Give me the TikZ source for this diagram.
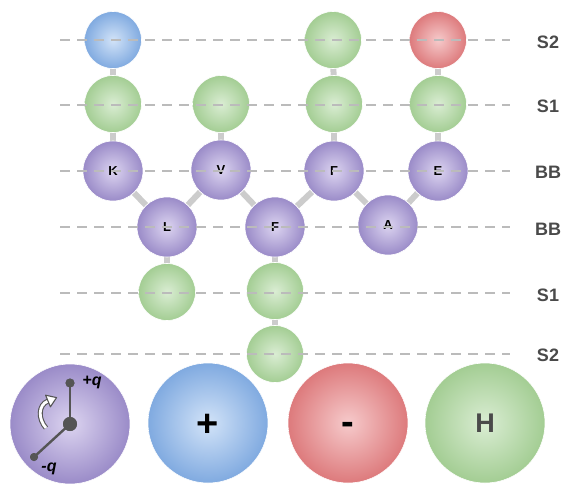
\documentclass[tikz,border=0pt]{standalone}
\usepackage{fontspec}
\setmainfont{Liberation Sans}
\usetikzlibrary{backgrounds}
\definecolor{purin}{HTML}{DCD4F0}
\definecolor{purout}{HTML}{9A8BC8}
\definecolor{bluin}{HTML}{D2E3F8}
\definecolor{bluout}{HTML}{80AAE0}
\definecolor{redin}{HTML}{F6CACB}
\definecolor{redout}{HTML}{DD7A7C}
\definecolor{grnin}{HTML}{DAEDD3}
\definecolor{grnout}{HTML}{A3CD93}
\definecolor{conncol}{HTML}{CCCCCC}
\definecolor{dashcol}{HTML}{BBBBBB}
\definecolor{labcol}{HTML}{4A4A4A}
\definecolor{dipcol}{HTML}{555555}
\begin{document}
\begin{tikzpicture}[x=1pt,y=-1pt,
  bead/.style={circle, minimum size=57pt, inner sep=0pt, draw=white, line width=0.6pt,
     font=\bfseries\fontsize{13}{13}\selectfont},
  pur/.style={bead, minimum size=60pt, shading=radial, inner color=purin, outer color=purout},
  blu/.style={bead, shading=radial, inner color=bluin, outer color=bluout},
  rd/.style={bead, shading=radial, inner color=redin, outer color=redout},
  grn/.style={bead, shading=radial, inner color=grnin, outer color=grnout},
  big/.style={minimum size=120pt},
  conn/.style={draw=conncol, line width=6pt},
  level/.style={draw=dashcol, line width=2.8pt, dash pattern=on 10pt off 7pt},
  lab/.style={font=\bfseries\fontsize{18}{18}\selectfont, text=labcol},
  dip/.style={circle, fill=dipcol, inner sep=0pt},
  dipline/.style={draw=dipcol, line width=2.4pt},
  qlab/.style={font=\bfseries\itshape\fontsize{16}{16}\selectfont, text=black}
]
\useasboundingbox (0,0) rectangle (563,483);
% beads
\node[blu] (s2a) at (113,40) {};
\node[grn] (s2b) at (333,40) {};
\node[rd]  (s2c) at (438,40) {};
\node[grn] (s1a) at (113,104) {};
\node[grn] (s1b) at (221,104) {};
\node[grn] (s1c) at (334,104) {};
\node[grn] (s1d) at (438,104) {};
\node[pur] (K) at (113,171) {K};
\node[pur] (V) at (221,170) {V};
\node[pur] (F1) at (334,171) {F};
\node[pur] (E) at (438,171) {E};
\node[pur] (L) at (167,227) {L};
\node[pur] (F2) at (275,227) {F};
\node[pur] (A) at (388,225) {A};
\node[grn] (t1a) at (167,292) {};
\node[grn] (t1b) at (275,291) {};
\node[grn] (t2b) at (275,354) {};
% connectors
\begin{scope}[on background layer]
\draw[conn] (s2a) -- (s1a);
\draw[conn] (s1a) -- (K);
\draw[conn] (s1b) -- (V);
\draw[conn] (s2b) -- (s1c);
\draw[conn] (s1c) -- (F1);
\draw[conn] (s2c) -- (s1d);
\draw[conn] (s1d) -- (E);
\draw[conn] (K) -- (L);
\draw[conn] (L) -- (V);
\draw[conn] (V) -- (F2);
\draw[conn] (F2) -- (F1);
\draw[conn] (F1) -- (A);
\draw[conn] (A) -- (E);
\draw[conn] (L) -- (t1a);
\draw[conn] (F2) -- (t1b);
\draw[conn] (t1b) -- (t2b);
\end{scope}
% level lines
\coordinate (a1) at (60,40);  \coordinate (b1) at (510,40);
\coordinate (a2) at (60,105); \coordinate (b2) at (510,105);
\coordinate (a3) at (60,171); \coordinate (b3) at (510,171);
\coordinate (a4) at (60,227); \coordinate (b4) at (510,227);
\coordinate (a5) at (60,293); \coordinate (b5) at (510,293);
\coordinate (a6) at (60,354); \coordinate (b6) at (510,354);
\foreach \i in {1,...,6} {\draw[level] (a\i) -- (b\i);}
\node[lab] (l1) at (548,42) {S2};
\node[lab] (l2) at (548,106) {S1};
\node[lab] (l3) at (548,172) {BB};
\node[lab] (l4) at (548,229) {BB};
\node[lab] (l5) at (548,295) {S1};
\node[lab] (l6) at (548,355) {S2};
% legend
\node[pur, big] (gp) at (70,424) {};
\node[blu, big, font=\bfseries\fontsize{38}{38}\selectfont, text height=27.4pt, text depth=0pt] (gb) at (208,423) {+};
\node[rd, big, font=\bfseries\fontsize{38}{38}\selectfont, text height=23.4pt, text depth=0pt] (gr) at (348,423) {-};
\node[grn, big, font=\bfseries\fontsize{27}{27}\selectfont, text=labcol] (gg) at (485,423) {H};
% dipole
\node[dip, minimum size=14pt] (dc) at (70,424) {};
\node[dip, minimum size=9pt] (du) at (70,383) {};
\node[dip, minimum size=8pt] (dl) at (34,457) {};
\draw[dipline] (dc.center) -- (du.center);
\draw[dipline] (dc.center) -- (dl.center);
\node[dip, minimum size=14pt] at (dc) {};
\node[dip, minimum size=9pt] at (du) {};
\node[dip, minimum size=8pt] at (dl) {};
\node[qlab] (pq) at (92,382) {+q};
\node[qlab] (mq) at (49,469) {-q};
% rotation arrow
\draw[draw=dipcol, line width=1.1pt, double=white, double distance=2.8pt]
  (46,428) .. controls (38,419) and (38,405) .. (48,401);
\draw[draw=dipcol, line width=1.1pt, fill=white, line join=round]
  (50.4,406.8) -- (56.6,397.6) -- (45.6,395.2) -- cycle;
\end{tikzpicture}
\end{document}
